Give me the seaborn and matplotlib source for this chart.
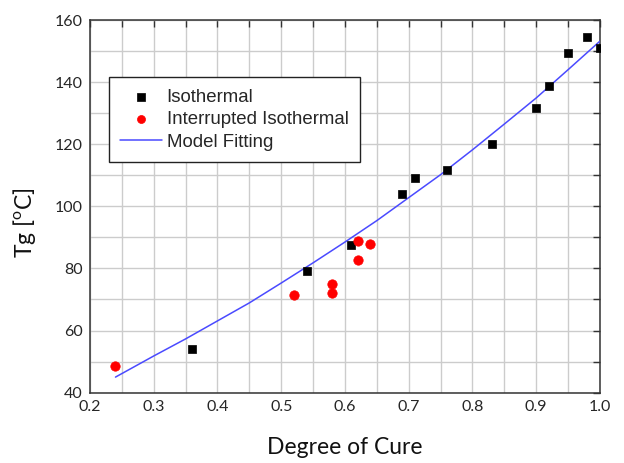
import matplotlib
matplotlib.use("Agg")
import matplotlib.pyplot as plt
import numpy as np
import pandas as pd
import seaborn as sns
from matplotlib.ticker import MultipleLocator

# ---- data ----
iso_x = [0.36, 0.54, 0.61, 0.69, 0.71, 0.76, 0.83, 0.90, 0.92, 0.95, 0.98, 1.00]
iso_y = [53.9, 79.2, 87.7, 103.9, 109.1, 111.7, 120.2, 131.8, 138.7, 149.5, 154.4, 151.1]

int_x = [0.24, 0.52, 0.58, 0.58, 0.62, 0.62, 0.64]
int_y = [48.6, 71.3, 74.9, 72.0, 88.9, 82.8, 87.9]

fit_x = [0.24, 0.30, 0.35, 0.40, 0.45, 0.50, 0.55, 0.60, 0.65, 0.70,
         0.75, 0.80, 0.85, 0.90, 0.95, 1.00]
fit_y = [45.0, 51.8, 57.3, 63.1, 68.9, 75.3, 81.8, 88.5, 95.4, 102.8,
         110.2, 118.2, 126.5, 134.9, 144.0, 153.2]

x_label = "Degree of Cure"
y_label = r"Tg [$^\mathregular{o}$C]"

iso_df = pd.DataFrame({"x": iso_x, "y": iso_y})
int_df = pd.DataFrame({"x": int_x, "y": int_y})
fit_df = pd.DataFrame({"x": fit_x, "y": fit_y})

sns.set_style("white")
plt.rcParams['font.family'] = ['Lato', 'DejaVu Sans']

fig = plt.figure(figsize=(6.24, 4.63), dpi=100)
ax = fig.add_axes([0.1442, 0.152, 0.8173, 0.8048])

sns.lineplot(data=fit_df, x="x", y="y", ax=ax, color="#4a4aff", linewidth=1.1,
             label="Model Fitting", zorder=3, sort=False)
sns.scatterplot(data=iso_df, x="x", y="y", ax=ax, marker="s", color="black",
                s=36, edgecolor="black", linewidth=0.5, label="Isothermal", zorder=4)
sns.scatterplot(data=int_df, x="x", y="y", ax=ax, marker="o", color="#ff0000",
                s=46, edgecolor="#ff0000", linewidth=0.5,
                label="Interrupted Isothermal", zorder=4)

ax.set_xlim(0.2, 1.0)
ax.set_ylim(40, 160)
ax.xaxis.set_major_locator(MultipleLocator(0.1))
ax.xaxis.set_minor_locator(MultipleLocator(0.05))
ax.yaxis.set_major_locator(MultipleLocator(20))
ax.yaxis.set_minor_locator(MultipleLocator(10))
ax.set_xticklabels([f"{v:.1f}" for v in ax.get_xticks()])

ax.grid(which="both", color="#cccccc", linewidth=1.0, zorder=0)
ax.set_axisbelow(True)
ax.tick_params(which="both", direction="in", top=True, right=True,
               length=5, width=1, color="#333333")
ax.tick_params(which="major", labelsize=11.5, labelcolor="#262626", pad=5)
for s in ax.spines.values():
    s.set_visible(True)
    s.set_color("#333333")
    s.set_linewidth(1.1)

ax.set_xlabel(x_label, fontsize=16.5, color="#111111")
ax.set_ylabel(y_label, fontsize=16.5, color="#111111")
ax.xaxis.set_label_coords(0.5, -0.118)
ax.yaxis.set_label_coords(-0.102, 0.456)

handles, labels = ax.get_legend_handles_labels()
order = [labels.index("Isothermal"), labels.index("Interrupted Isothermal"),
         labels.index("Model Fitting")]
leg = ax.legend([handles[i] for i in order], [labels[i] for i in order],
                loc="upper left", bbox_to_anchor=(0.037, 0.846),
                borderaxespad=0, frameon=True, fancybox=False,
                edgecolor="#222222", framealpha=1,
                prop={"family": "Liberation Sans", "size": 13.4},
                labelspacing=0.3, handlelength=2.25, handletextpad=0.25,
                borderpad=0.6, markerscale=0.85)
leg.get_frame().set_linewidth(1.0)

fig.savefig("out.png", dpi=100)
